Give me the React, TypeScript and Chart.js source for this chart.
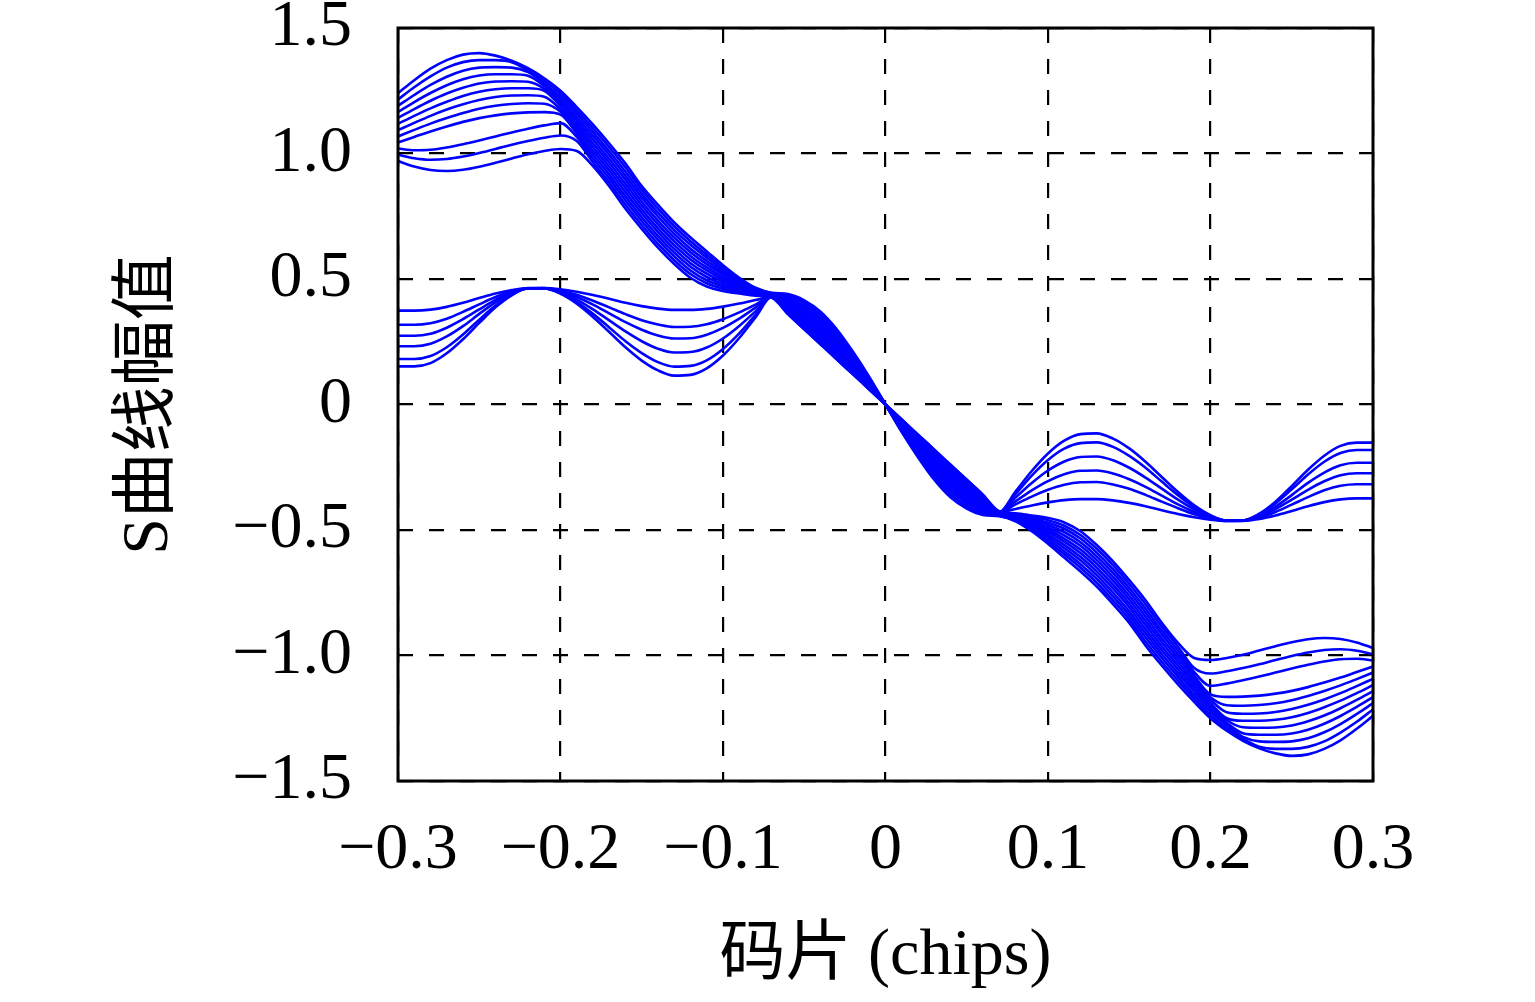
import React, { useEffect, useRef } from "react";
import { Chart, registerables } from "chart.js";

Chart.register(...registerables);

// x positions (chips)
const X_VALUES = [
  -0.3, -0.29, -0.28, -0.27, -0.26, -0.25, -0.24, -0.23, -0.22, -0.21, -0.2, -0.19, -0.18, -0.17, -0.16, -0.15,
  -0.14, -0.13, -0.12, -0.11, -0.1, -0.09, -0.08, -0.07, -0.06, -0.05, -0.04, -0.03, -0.02, -0.01, 0, 0.01, 0.02,
  0.03, 0.04, 0.05, 0.06, 0.07, 0.08, 0.09, 0.1, 0.11, 0.12, 0.13, 0.14, 0.15, 0.16, 0.17, 0.18, 0.19, 0.2, 0.21,
  0.22, 0.23, 0.24, 0.25, 0.26, 0.27, 0.28, 0.29, 0.3,
];

// outer family (upper-left / lower-right lobes)
const OUTER_1 = [1.24, 1.292, 1.338, 1.372, 1.394, 1.4, 1.39, 1.37, 1.34, 1.3, 1.25, 1.185, 1.115, 1.04, 0.96, 0.87, 0.795, 0.725, 0.665, 0.61, 0.555, 0.505, 0.465, 0.445,
  0.44, 0.415, 0.37, 0.3, 0.21, 0.11, 0, -0.11, -0.21, -0.3, -0.37, -0.415, -0.44,
  -0.445, -0.465, -0.505, -0.555, -0.61, -0.665, -0.725, -0.795, -0.87, -0.96, -1.04, -1.115, -1.185, -1.25, -1.3, -1.34, -1.37, -1.39, -1.4, -1.394, -1.372, -1.338, -1.292, -1.24];
const OUTER_2 = [1.215, 1.264, 1.307, 1.342, 1.364, 1.372, 1.372, 1.364, 1.332, 1.29, 1.238, 1.172, 1.1, 1.025, 0.944, 0.855, 0.78, 0.71, 0.65, 0.597, 0.546, 0.499, 0.462, 0.443,
  0.433, 0.405, 0.358, 0.289, 0.202, 0.105, 0, -0.105, -0.202, -0.289, -0.358, -0.405, -0.433,
  -0.443, -0.462, -0.499, -0.546, -0.597, -0.65, -0.71, -0.78, -0.855, -0.944, -1.025, -1.1, -1.172, -1.238, -1.29, -1.332, -1.364, -1.372, -1.372, -1.364, -1.342, -1.307, -1.264, -1.215];
const OUTER_3 = [1.19, 1.233, 1.273, 1.306, 1.33, 1.342, 1.344, 1.342, 1.324, 1.279, 1.225, 1.159, 1.085, 1.009, 0.927, 0.839, 0.764, 0.695, 0.636, 0.585, 0.536, 0.494, 0.459, 0.441,
  0.425, 0.394, 0.346, 0.278, 0.194, 0.101, 0, -0.101, -0.194, -0.278, -0.346, -0.394, -0.425,
  -0.441, -0.459, -0.494, -0.536, -0.585, -0.636, -0.695, -0.764, -0.839, -0.927, -1.009, -1.085, -1.159, -1.225, -1.279, -1.324, -1.342, -1.344, -1.342, -1.33, -1.306, -1.273, -1.233, -1.19];
const OUTER_4 = [1.166, 1.205, 1.241, 1.272, 1.296, 1.311, 1.316, 1.316, 1.31, 1.269, 1.213, 1.145, 1.07, 0.994, 0.911, 0.824, 0.749, 0.68, 0.621, 0.572, 0.527, 0.488, 0.456, 0.44,
  0.418, 0.384, 0.335, 0.267, 0.185, 0.096, 0, -0.096, -0.185, -0.267, -0.335, -0.384, -0.418,
  -0.44, -0.456, -0.488, -0.527, -0.572, -0.621, -0.68, -0.749, -0.824, -0.911, -0.994, -1.07, -1.145, -1.213, -1.269, -1.31, -1.316, -1.316, -1.311, -1.296, -1.272, -1.241, -1.205, -1.166];
const OUTER_5 = [1.142, 1.177, 1.21, 1.239, 1.262, 1.279, 1.287, 1.288, 1.286, 1.258, 1.201, 1.132, 1.055, 0.978, 0.895, 0.808, 0.733, 0.665, 0.607, 0.559, 0.518, 0.482, 0.453, 0.438,
  0.411, 0.373, 0.323, 0.256, 0.177, 0.092, 0, -0.092, -0.177, -0.256, -0.323, -0.373, -0.411,
  -0.438, -0.453, -0.482, -0.518, -0.559, -0.607, -0.665, -0.733, -0.808, -0.895, -0.978, -1.055, -1.132, -1.201, -1.258, -1.286, -1.288, -1.287, -1.279, -1.262, -1.239, -1.21, -1.177, -1.142];
const OUTER_6 = [1.118, 1.15, 1.18, 1.206, 1.229, 1.246, 1.256, 1.26, 1.26, 1.25, 1.189, 1.119, 1.04, 0.963, 0.878, 0.793, 0.718, 0.65, 0.592, 0.546, 0.508, 0.476, 0.45, 0.436,
  0.404, 0.363, 0.311, 0.245, 0.169, 0.087, 0, -0.087, -0.169, -0.245, -0.311, -0.363, -0.404,
  -0.436, -0.45, -0.476, -0.508, -0.546, -0.592, -0.65, -0.718, -0.793, -0.878, -0.963, -1.04, -1.119, -1.189, -1.25, -1.26, -1.26, -1.256, -1.246, -1.229, -1.206, -1.18, -1.15, -1.118];
const OUTER_7 = [1.093, 1.122, 1.15, 1.175, 1.196, 1.213, 1.225, 1.231, 1.232, 1.226, 1.176, 1.106, 1.025, 0.947, 0.862, 0.777, 0.702, 0.635, 0.578, 0.534, 0.499, 0.471, 0.448, 0.434,
  0.396, 0.352, 0.299, 0.235, 0.161, 0.083, 0, -0.083, -0.161, -0.235, -0.299, -0.352, -0.396,
  -0.434, -0.448, -0.471, -0.499, -0.534, -0.578, -0.635, -0.702, -0.777, -0.862, -0.947, -1.025, -1.106, -1.176, -1.226, -1.232, -1.231, -1.225, -1.213, -1.196, -1.175, -1.15, -1.122, -1.093];
const OUTER_8 = [1.068, 1.094, 1.119, 1.141, 1.161, 1.178, 1.19, 1.197, 1.2, 1.198, 1.166, 1.093, 1.01, 0.932, 0.845, 0.762, 0.687, 0.62, 0.563, 0.521, 0.49, 0.465, 0.445, 0.432,
  0.389, 0.342, 0.287, 0.224, 0.153, 0.078, 0, -0.078, -0.153, -0.224, -0.287, -0.342, -0.389,
  -0.432, -0.445, -0.465, -0.49, -0.521, -0.563, -0.62, -0.687, -0.762, -0.845, -0.932, -1.01, -1.093, -1.166, -1.198, -1.2, -1.197, -1.19, -1.178, -1.161, -1.141, -1.119, -1.094, -1.068];
const OUTER_9 = [1.044, 1.066, 1.088, 1.108, 1.126, 1.141, 1.152, 1.16, 1.164, 1.165, 1.155, 1.08, 0.995, 0.916, 0.829, 0.746, 0.671, 0.605, 0.549, 0.508, 0.48, 0.459, 0.442, 0.43,
  0.382, 0.331, 0.275, 0.213, 0.145, 0.074, 0, -0.074, -0.145, -0.213, -0.275, -0.331, -0.382,
  -0.43, -0.442, -0.459, -0.48, -0.508, -0.549, -0.605, -0.671, -0.746, -0.829, -0.916, -0.995, -1.08, -1.155, -1.165, -1.164, -1.16, -1.152, -1.141, -1.126, -1.108, -1.088, -1.066, -1.044];
const OUTER_10 = [1.02, 1.013, 1.015, 1.024, 1.037, 1.052, 1.068, 1.084, 1.099, 1.112, 1.121, 1.066, 0.98, 0.901, 0.813, 0.731, 0.656, 0.59, 0.534, 0.495, 0.471, 0.453, 0.439, 0.429,
  0.375, 0.321, 0.264, 0.202, 0.136, 0.069, 0, -0.069, -0.136, -0.202, -0.264, -0.321, -0.375,
  -0.429, -0.439, -0.453, -0.471, -0.495, -0.534, -0.59, -0.656, -0.731, -0.813, -0.901, -0.98, -1.066, -1.121, -1.112, -1.099, -1.084, -1.068, -1.052, -1.037, -1.024, -1.015, -1.013, -1.02];
const OUTER_11 = [0.995, 0.981, 0.975, 0.978, 0.988, 1.002, 1.018, 1.035, 1.05, 1.063, 1.072, 1.05, 0.965, 0.885, 0.796, 0.715, 0.64, 0.575, 0.52, 0.483, 0.461, 0.448, 0.436, 0.427,
  0.367, 0.31, 0.252, 0.191, 0.128, 0.065, 0, -0.065, -0.128, -0.191, -0.252, -0.31, -0.367,
  -0.427, -0.436, -0.448, -0.461, -0.483, -0.52, -0.575, -0.64, -0.715, -0.796, -0.885, -0.965, -1.05, -1.072, -1.063, -1.05, -1.035, -1.018, -1.002, -0.988, -0.978, -0.975, -0.981, -0.995];
const OUTER_12 = [0.97, 0.948, 0.934, 0.93, 0.935, 0.947, 0.963, 0.98, 0.997, 1.01, 1.018, 1.01, 0.95, 0.87, 0.78, 0.7, 0.625, 0.56, 0.505, 0.47, 0.452, 0.442, 0.433, 0.425,
  0.36, 0.3, 0.24, 0.18, 0.12, 0.06, 0, -0.06, -0.12, -0.18, -0.24, -0.3, -0.36,
  -0.425, -0.433, -0.442, -0.452, -0.47, -0.505, -0.56, -0.625, -0.7, -0.78, -0.87, -0.95, -1.01, -1.018, -1.01, -0.997, -0.98, -0.963, -0.947, -0.935, -0.93, -0.934, -0.948, -0.97];

// inner family (lower-left / upper-right lobes)
const INNER_1 = [0.152, 0.152, 0.165, 0.204, 0.26, 0.325, 0.387, 0.435, 0.462, 0.462, 0.441, 0.402, 0.349, 0.289, 0.228, 0.175, 0.136, 0.115, 0.118, 0.144, 0.195, 0.265, 0.347,
  0.43, 0.433, 0.405, 0.358, 0.289, 0.202, 0.105, 0, -0.105, -0.202, -0.289, -0.358, -0.405, -0.433, -0.43,
  -0.347, -0.265, -0.195, -0.144, -0.118, -0.115, -0.136, -0.175, -0.228, -0.289, -0.349, -0.402, -0.441, -0.462, -0.462, -0.435, -0.387, -0.325, -0.26, -0.204, -0.165, -0.152, -0.152];
const INNER_2 = [0.181, 0.181, 0.193, 0.228, 0.279, 0.338, 0.394, 0.438, 0.462, 0.462, 0.444, 0.408, 0.361, 0.307, 0.252, 0.205, 0.169, 0.151, 0.154, 0.176, 0.221, 0.283, 0.357,
  0.43, 0.418, 0.384, 0.335, 0.267, 0.185, 0.096, 0, -0.096, -0.185, -0.267, -0.335, -0.384, -0.418, -0.43,
  -0.357, -0.283, -0.221, -0.176, -0.154, -0.151, -0.169, -0.205, -0.252, -0.307, -0.361, -0.408, -0.444, -0.462, -0.462, -0.438, -0.394, -0.338, -0.279, -0.228, -0.193, -0.181, -0.181];
const INNER_3 = [0.232, 0.232, 0.242, 0.271, 0.312, 0.361, 0.407, 0.443, 0.462, 0.463, 0.448, 0.418, 0.379, 0.335, 0.291, 0.252, 0.222, 0.207, 0.209, 0.227, 0.263, 0.313, 0.371,
  0.43, 0.404, 0.363, 0.311, 0.245, 0.169, 0.087, 0, -0.087, -0.169, -0.245, -0.311, -0.363, -0.404, -0.43,
  -0.371, -0.313, -0.263, -0.227, -0.209, -0.207, -0.222, -0.252, -0.291, -0.335, -0.379, -0.418, -0.448, -0.463, -0.462, -0.443, -0.407, -0.361, -0.312, -0.271, -0.242, -0.232, -0.232];
const INNER_4 = [0.274, 0.274, 0.282, 0.306, 0.34, 0.379, 0.417, 0.447, 0.463, 0.463, 0.451, 0.428, 0.398, 0.363, 0.328, 0.298, 0.275, 0.263, 0.264, 0.278, 0.305, 0.342, 0.386,
  0.43, 0.389, 0.342, 0.287, 0.224, 0.153, 0.078, 0, -0.078, -0.153, -0.224, -0.287, -0.342, -0.389, -0.43,
  -0.386, -0.342, -0.305, -0.278, -0.264, -0.263, -0.275, -0.298, -0.328, -0.363, -0.398, -0.428, -0.451, -0.463, -0.463, -0.447, -0.417, -0.379, -0.34, -0.306, -0.282, -0.274, -0.274];
const INNER_5 = [0.318, 0.318, 0.324, 0.342, 0.369, 0.399, 0.428, 0.451, 0.463, 0.464, 0.454, 0.437, 0.413, 0.387, 0.36, 0.336, 0.319, 0.309, 0.31, 0.32, 0.34, 0.367, 0.398,
  0.43, 0.375, 0.321, 0.264, 0.202, 0.136, 0.069, 0, -0.069, -0.136, -0.202, -0.264, -0.321, -0.375, -0.43,
  -0.398, -0.367, -0.34, -0.32, -0.31, -0.309, -0.319, -0.336, -0.36, -0.387, -0.413, -0.437, -0.454, -0.464, -0.463, -0.451, -0.428, -0.399, -0.369, -0.342, -0.324, -0.318, -0.318];
const INNER_6 = [0.374, 0.374, 0.378, 0.389, 0.405, 0.424, 0.442, 0.456, 0.464, 0.464, 0.459, 0.449, 0.436, 0.421, 0.405, 0.392, 0.382, 0.377, 0.377, 0.381, 0.39, 0.402, 0.416,
  0.43, 0.36, 0.3, 0.24, 0.18, 0.12, 0.06, 0, -0.06, -0.12, -0.18, -0.24, -0.3, -0.36, -0.43,
  -0.416, -0.402, -0.39, -0.381, -0.377, -0.377, -0.382, -0.392, -0.405, -0.421, -0.436, -0.449, -0.459, -0.464, -0.464, -0.456, -0.442, -0.424, -0.405, -0.389, -0.378, -0.374, -0.374];

const X_TICKS = [-0.3, -0.2, -0.1, 0, 0.1, 0.2, 0.3];
const X_TICK_LABELS = ["\u22120.3", "\u22120.2", "\u22120.1", "0", "0.1", "0.2", "0.3"];
const Y_TICKS = [-1.5, -1, -0.5, 0, 0.5, 1, 1.5];
const Y_TICK_LABELS = ["\u22121.5", "\u22121.0", "\u22120.5", "0", "0.5", "1.0", "1.5"];
const X_TITLE = "码片 (chips)";
const Y_TITLE = "S曲线幅值";

const SERIES = [
  OUTER_1, OUTER_2, OUTER_3, OUTER_4, OUTER_5, OUTER_6, OUTER_7, OUTER_8, OUTER_9, OUTER_10, OUTER_11, OUTER_12,
  INNER_1, INNER_2, INNER_3, INNER_4, INNER_5, INNER_6,
];

const FONT_FAMILY = '"Liberation Serif", "Noto Sans CJK SC", serif';

export default function App() {
  const canvasRef = useRef<HTMLCanvasElement | null>(null);

  useEffect(() => {
    document.body.style.margin = "0";
    document.body.style.overflow = "hidden";
    const canvas = canvasRef.current;
    if (!canvas) return;

    const framePlugin = {
      id: "frameBox",
      afterDatasetsDraw(chart: any) {
        const { ctx, chartArea: a } = chart;
        ctx.save();
        ctx.strokeStyle = "#000";
        ctx.lineWidth = 3;
        ctx.strokeRect(a.left, a.top, a.right - a.left, a.bottom - a.top);
        ctx.restore();
      },
    };

    const chart = new Chart(canvas, {
      type: "line",
      data: {
        datasets: SERIES.map((ys) => ({
          data: ys.map((y, i) => ({ x: X_VALUES[i], y })),
          borderColor: "#0000ff",
          borderWidth: 2.6,
          pointRadius: 0,
          fill: false,
          cubicInterpolationMode: "monotone" as const,
        })),
      },
      options: {
        animation: false,
        responsive: false,
        events: [],
        layout: { padding: { top: 28, right: 162, bottom: 0, left: 0 } },
        plugins: { legend: { display: false }, tooltip: { enabled: false } },
        scales: {
          x: {
            type: "linear",
            min: -0.3,
            max: 0.3,
            afterBuildTicks: (s: any) => {
              s.ticks = X_TICKS.map((v) => ({ value: v }));
            },
            afterFit: (s: any) => {
              s.height = 221;
              s.paddingLeft = 0;
              s.paddingRight = 0;
            },
            ticks: {
              callback: (_v: any, i: number) => X_TICK_LABELS[i],
              font: { family: FONT_FAMILY, size: 66 },
              color: "#000",
              padding: 30,
              maxRotation: 0,
              autoSkip: false,
            },
            grid: { color: "#000", lineWidth: 2.2, drawTicks: false },
            border: { display: false, dash: [15, 16] },
            title: {
              display: true,
              text: X_TITLE,
              color: "#000",
              font: { family: FONT_FAMILY, size: 66 },
              padding: { top: 0, bottom: 6 },
            },
          },
          y: {
            type: "linear",
            min: -1.5,
            max: 1.5,
            afterBuildTicks: (s: any) => {
              s.ticks = Y_TICKS.map((v) => ({ value: v }));
            },
            afterFit: (s: any) => {
              s.width = 398;
              s.paddingTop = 0;
              s.paddingBottom = 0;
            },
            ticks: {
              callback: (_v: any, i: number) => Y_TICK_LABELS[i],
              font: { family: FONT_FAMILY, size: 66 },
              color: "#000",
              padding: 46,
              autoSkip: false,
            },
            grid: { color: "#000", lineWidth: 2.2, drawTicks: false },
            border: { display: false, dash: [15, 16] },
            title: {
              display: true,
              text: Y_TITLE,
              color: "#000",
              font: { family: FONT_FAMILY, size: 66 },
              padding: { top: 110, bottom: 0 },
            },
          },
        },
      },
      plugins: [framePlugin],
    } as any);

    return () => chart.destroy();
  }, []);

  return (
    <div style={{ width: 1535, height: 1002, background: "#fff" }}>
      <canvas ref={canvasRef} width={1535} height={1002} style={{ display: "block", width: 1535, height: 1002 }} />
    </div>
  );
}
